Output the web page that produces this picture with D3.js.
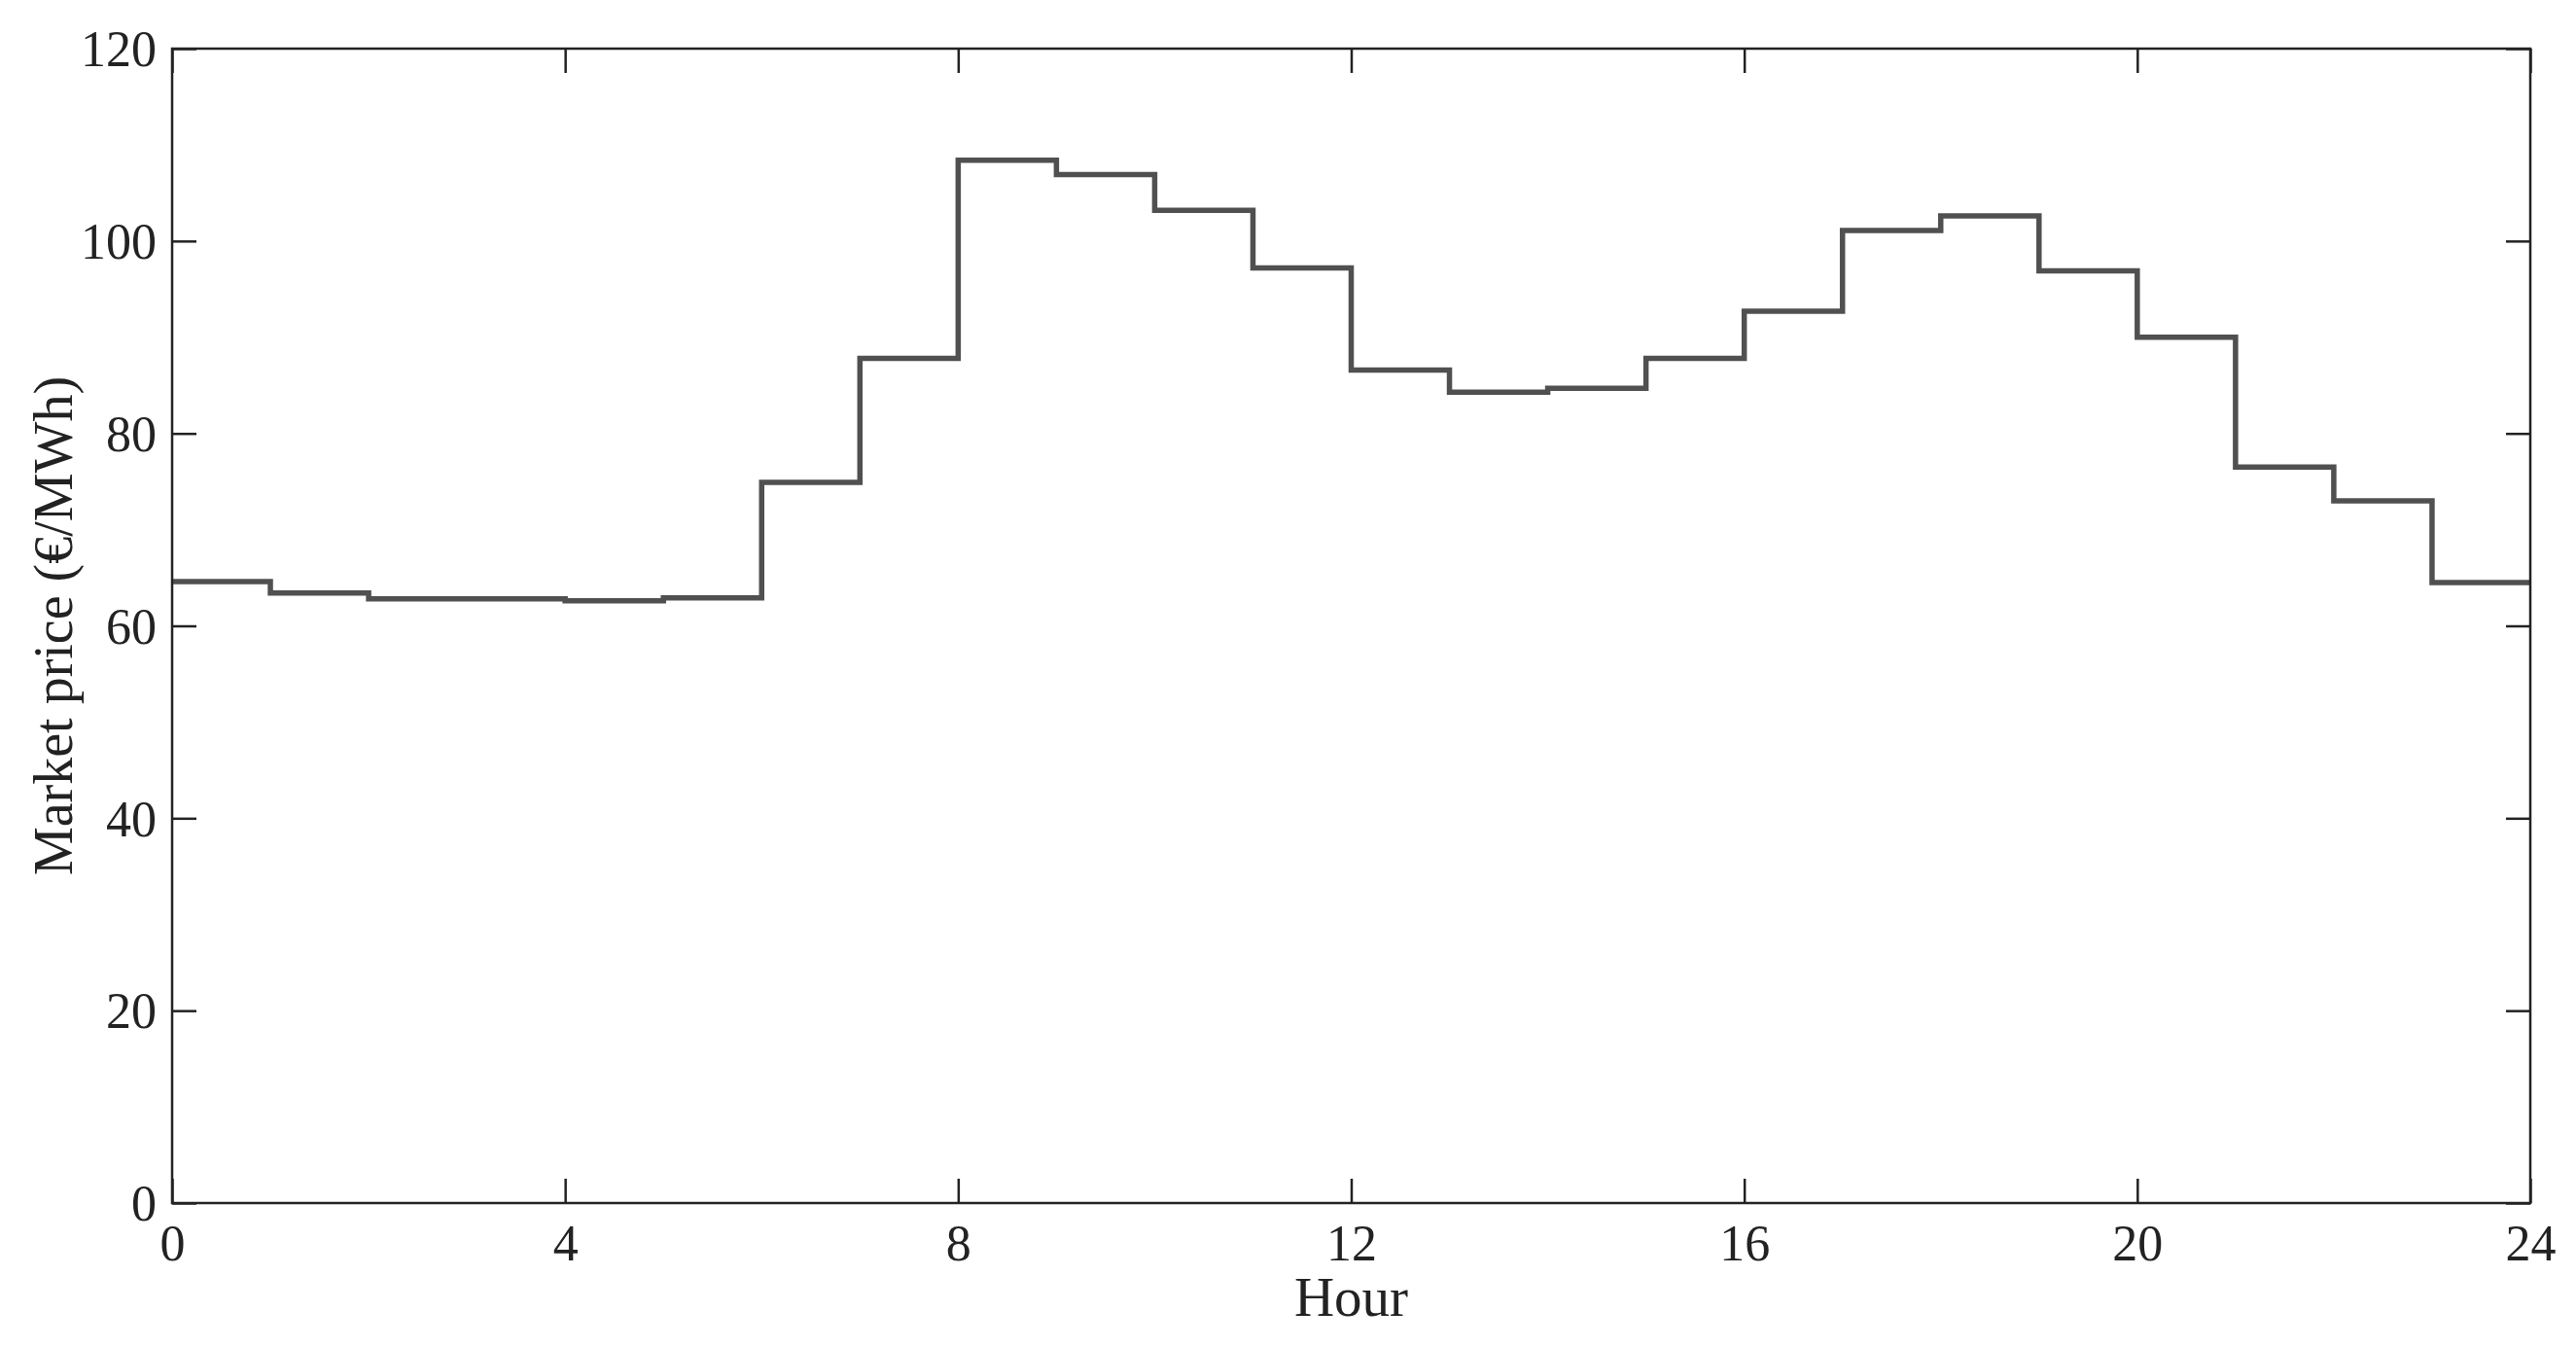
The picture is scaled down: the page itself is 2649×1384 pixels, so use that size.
<!DOCTYPE html>
<html>
<head>
<meta charset="utf-8">
<script src="https://cdn.jsdelivr.net/npm/d3@7"></script>
<style>
  html, body { margin: 0; padding: 0; background: #fff; }
  svg { display: block; }
  text { font-family: "Liberation Serif", "DejaVu Serif", serif; fill: #222; }
</style>
</head>
<body>
<script>
// ---- data ----
const hours = [0,1,2,3,4,5,6,7,8,9,10,11,12,13,14,15,16,17,18,19,20,21,22,23];
const prices = [64.6,63.4,62.8,62.8,62.6,62.9,74.9,87.8,108.4,106.9,103.2,97.2,86.6,84.3,84.7,87.8,92.7,101.1,102.6,96.9,90.0,76.5,73.0,64.5];
const xTicks = [0,4,8,12,16,20,24];
const yTicks = [0,20,40,60,80,100,120];
const xLabel = "Hour";
const yLabel = "Market price (€/MWh)";

// ---- layout ----
const W = 2649, H = 1384;
const mLeft = 177, mRight = 2602, mTop = 50, mBottom = 1237;

const svg = d3.select("body").append("svg").attr("width", W).attr("height", H);

const x = d3.scaleLinear().domain([0, 24]).range([mLeft, mRight]);
const y = d3.scaleLinear().domain([0, 120]).range([mBottom, mTop]);

// step line data: each hour spans [h, h+1]
const stepData = hours.map((h, i) => ({h, v: prices[i]}));
stepData.push({h: 24, v: prices[prices.length - 1]});

const line = d3.line()
  .x(d => x(d.h))
  .y(d => y(d.v))
  .curve(d3.curveStepAfter);

svg.append("path")
  .datum(stepData)
  .attr("d", line)
  .attr("fill", "none")
  .attr("stroke", "#505050")
  .attr("stroke-width", 5.5)
  .attr("stroke-linejoin", "miter")
  .attr("stroke-linecap", "butt");

const tickLen = 25;
const axisColor = "#222";
const fontSize = 52;

// bottom axis
const xAxisB = svg.append("g")
  .attr("transform", `translate(0,${mBottom})`)
  .call(d3.axisBottom(x).tickValues(xTicks).tickSize(-tickLen).tickPadding(36).tickFormat(d3.format("d")));
// top axis (ticks only)
const xAxisT = svg.append("g")
  .attr("transform", `translate(0,${mTop})`)
  .call(d3.axisTop(x).tickValues(xTicks).tickSize(-tickLen).tickFormat(""));
// left axis
const yAxisL = svg.append("g")
  .attr("transform", `translate(${mLeft},0)`)
  .call(d3.axisLeft(y).tickValues(yTicks).tickSize(-tickLen).tickPadding(16).tickFormat(d3.format("d")));
// right axis (ticks only)
const yAxisR = svg.append("g")
  .attr("transform", `translate(${mRight},0)`)
  .call(d3.axisRight(y).tickValues(yTicks).tickSize(-tickLen).tickFormat(""));

[xAxisB, xAxisT, yAxisL, yAxisR].forEach(g => {
  g.select(".domain").remove();
  g.selectAll(".tick line").attr("stroke", axisColor).attr("stroke-width", 2.5);
  g.selectAll(".tick text")
    .attr("fill", axisColor)
    .style("font-family", '"Liberation Serif", "DejaVu Serif", serif')
    .style("font-size", fontSize + "px");
});
xAxisB.selectAll(".tick text").attr("dy", "0.45em");
yAxisL.selectAll(".tick text").attr("dy", "0.34em");

// frame
svg.append("rect")
  .attr("x", mLeft).attr("y", mTop)
  .attr("width", mRight - mLeft).attr("height", mBottom - mTop)
  .attr("fill", "none")
  .attr("stroke", axisColor)
  .attr("stroke-width", 2.5);

// axis titles
svg.append("text")
  .attr("x", (mLeft + mRight) / 2)
  .attr("y", 1353)
  .attr("text-anchor", "middle")
  .style("font-size", "57px")
  .text(xLabel);

svg.append("text")
  .attr("transform", `translate(74,${(mTop + mBottom) / 2}) rotate(-90)`)
  .attr("text-anchor", "middle")
  .style("font-size", "56px")
  .text(yLabel);
</script>
</body>
</html>
